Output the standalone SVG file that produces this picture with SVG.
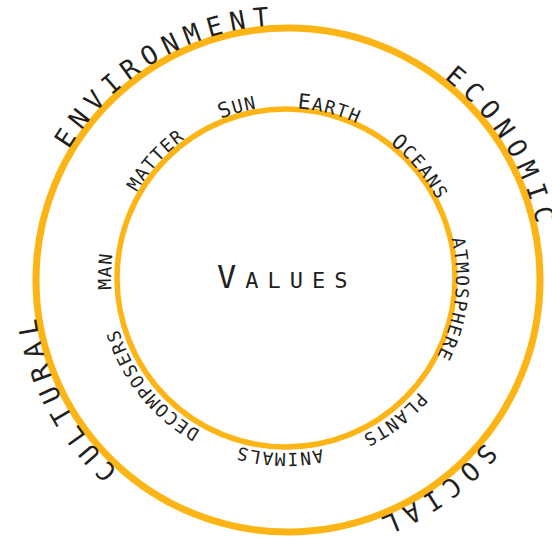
<svg xmlns="http://www.w3.org/2000/svg" xmlns:xlink="http://www.w3.org/1999/xlink" width="552" height="538" viewBox="0 0 552 538">
  <style>
    .ring { fill: none; stroke: #FDB515; }
    .lbl { font-family: "DejaVu Sans Mono", "Liberation Mono", monospace; fill: #231F20; text-anchor: middle; }
    .outer-lbl { font-size: 26px; letter-spacing: 7.3px; }
    .inner-lbl { font-size: 18px; letter-spacing: 1.4px; }
    .cap { font-size: 21px; }
  </style>
  <defs>
    <!-- baseline circles: start at the bottom, run clockwise, so 50% sits at the top -->
    <path id="o255" d="M288,535 A255,255 0 1 1 288,25 A255,255 0 1 1 288,535"/>
    <path id="i170" d="M286,448 A170,170 0 1 1 286,108 A170,170 0 1 1 286,448"/>
    <path id="i172" d="M286,450 A172,172 0 1 1 286,106 A172,172 0 1 1 286,450"/>
    <path id="i175" d="M286,453 A175,175 0 1 1 286,103 A175,175 0 1 1 286,453"/>
  </defs>

  <rect width="552" height="538" fill="#ffffff"/>

  <g id="outer-ring">
    <circle class="ring" cx="288" cy="280" r="252" stroke-width="7"/>
    <text class="lbl outer-lbl" transform="rotate(-30.9 288 280)"><textPath xlink:href="#o255" href="#o255" startOffset="50%">ENVIRONMENT</textPath></text>
    <text class="lbl outer-lbl" transform="rotate(58.3 288 280)"><textPath xlink:href="#o255" href="#o255" startOffset="50%">ECONOMIC</textPath></text>
    <text class="lbl outer-lbl" transform="rotate(145 288 280)"><textPath xlink:href="#o255" href="#o255" startOffset="50%">SOCIAL</textPath></text>
    <text class="lbl outer-lbl" transform="rotate(-117.6 288 280)"><textPath xlink:href="#o255" href="#o255" startOffset="50%">CULTURAL</textPath></text>
  </g>

  <g id="inner-ring">
    <circle class="ring" cx="286" cy="278" r="169" stroke-width="5.5"/>
    <text class="lbl inner-lbl" transform="rotate(-15.9 286 278)"><textPath xlink:href="#i172" href="#i172" startOffset="50%"><tspan class="cap">S</tspan>UN</textPath></text>
    <text class="lbl inner-lbl" transform="rotate(14.4 286 278)"><textPath xlink:href="#i170" href="#i170" startOffset="50%"><tspan class="cap">E</tspan>ARTH</textPath></text>
    <text class="lbl inner-lbl" transform="rotate(50.4 286 278)"><textPath xlink:href="#i170" href="#i170" startOffset="50%"><tspan class="cap">O</tspan>CEANS</textPath></text>
    <text class="lbl inner-lbl" transform="rotate(97.2 286 278)"><textPath xlink:href="#i170" href="#i170" startOffset="50%">ATMOSPHERE</textPath></text>
    <text class="lbl inner-lbl" transform="rotate(142.5 286 278)"><textPath xlink:href="#i175" href="#i175" startOffset="50%">PLANTS</textPath></text>
    <text class="lbl inner-lbl" transform="rotate(182.05 286 278)"><textPath xlink:href="#i175" href="#i175" startOffset="50%">ANIMALS</textPath></text>
    <text class="lbl inner-lbl" transform="rotate(-128.6 286 278)"><textPath xlink:href="#i175" href="#i175" startOffset="50%">DECOMPOSERS</textPath></text>
    <text class="lbl inner-lbl" transform="rotate(-87.8 286 278)"><textPath xlink:href="#i175" href="#i175" startOffset="50%">MAN</textPath></text>
    <text class="lbl inner-lbl" transform="rotate(-47.85 286 278)"><textPath xlink:href="#i172" href="#i172" startOffset="50%">MATTER</textPath></text>
  </g>

  <g id="center-label">
    <text x="217" y="288" font-family="DejaVu Sans Mono, Liberation Mono, monospace" fill="#231F20" font-size="22" letter-spacing="9"><tspan font-size="32">V</tspan>ALUES</text>
  </g>
</svg>
